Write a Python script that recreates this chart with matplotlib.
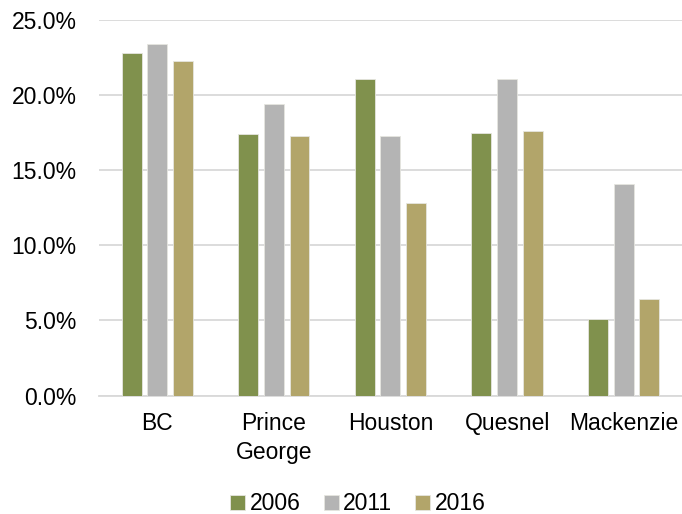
import matplotlib
matplotlib.use("Agg")
import matplotlib.pyplot as plt
import numpy as np
from matplotlib.ticker import FuncFormatter

plt.rcParams['font.family'] = ['Liberation Sans', 'DejaVu Sans']

places = ["BC", "Prince\nGeorge", "Houston", "Quesnel", "Mackenzie"]
years = ["2006", "2011", "2016"]
v2006 = [22.8, 17.4, 21.1, 17.45, 5.1]
v2011 = [23.4, 19.4, 17.3, 21.1, 14.1]
v2016 = [22.3, 17.3, 12.8, 17.6, 6.4]
colours = ["#80914D", "#B4B4B4", "#B2A56A"]

fig = plt.figure(figsize=(6.82, 5.14), dpi=100)
ax = fig.add_axes([0.145, 0.2305, 0.855, 0.7305])

x = np.arange(len(places))
width = 0.171
step = 0.22
for i, (vals, c, lab) in enumerate(zip([v2006, v2011, v2016], colours, years)):
    ax.bar(x + (i - 1) * step, vals, width, color=c, label=lab, zorder=3,
           edgecolor="#E6E6E0", linewidth=0.6)

ax.set_xlim(-0.5, len(places) - 0.5)
ax.set_ylim(0, 25)
ax.set_yticks(np.arange(0, 25.1, 5))
ax.yaxis.set_major_formatter(FuncFormatter(lambda v, p: "%.1f%%" % v))
ax.set_xticks(x)
ax.set_xticklabels(places, linespacing=1.3)
ax.tick_params(axis='both', length=0, labelsize=16.5, colors="#000000")
ax.tick_params(axis='x', pad=12)
ax.tick_params(axis='y', pad=16)
ax.grid(axis='y', color="#D9D9D9", linewidth=1.3, zorder=0)
for s in ["top", "right", "left"]:
    ax.spines[s].set_visible(False)
ax.spines["bottom"].set_color("#D9D9D9")
ax.spines["bottom"].set_linewidth(1.3)

fig.legend(loc="center", bbox_to_anchor=(0.525, 0.02), ncol=3, frameon=False,
           fontsize=16.5, handlelength=0.65, handleheight=0.65, handletextpad=0.2,
           columnspacing=1.0)

fig.savefig("out.png", dpi=100)
